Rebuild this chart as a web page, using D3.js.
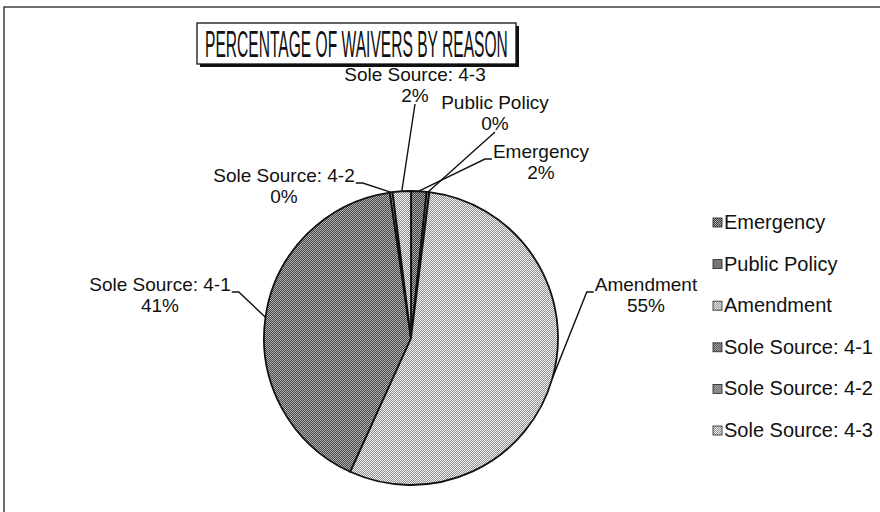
<!DOCTYPE html>
<html>
<head>
<meta charset="utf-8">
<script src="https://cdn.jsdelivr.net/npm/d3@7"></script>
<style>
  body { margin: 0; background: #fff; }
  svg { display: block; font-family: Arial, "Liberation Sans", sans-serif; }
</style>
</head>
<body>
<div id="chart"></div>
<script>
// data (percent of waivers)
const categories = ["Emergency", "Public Policy", "Amendment", "Sole Source: 4-1", "Sole Source: 4-2", "Sole Source: 4-3"];
const values = [1.7, 0.3, 54.8, 40.9, 0.3, 2.0];
const title = "PERCENTAGE OF WAIVERS BY REASON";

const W = 880, H = 512;
const cx = 411, cy = 338, r = 147;

// dither colours, [dark, light] of a 2x2 checker
const shades = [
  ["#3a3a3a", "#b0b0b0"],
  ["#3a3a3a", "#b0b0b0"],
  ["#8c8c8c", "#f4f4f4"],
  ["#444", "#b4b4b4"],
  ["#555", "#c0c0c0"],
  ["#8c8c8c", "#f4f4f4"]
];

// label layout: centre x, first baseline, and which edge of the label the leader meets
const labelPos = [
  { x: 541, y: 158, side: "left" },
  { x: 495, y: 109, side: "bottom" },
  { x: 646, y: 291, side: "left" },
  { x: 160, y: 291, side: "right" },
  { x: 284, y: 182, side: "right" },
  { x: 415, y: 81, side: "bottom" }
];
const fontSize = 19, lineGap = 21;

const svg = d3.select("#chart").append("svg")
  .attr("width", W)
  .attr("height", H);

const defs = svg.append("defs");
shades.forEach(function(s, i) {
  const p = defs.append("pattern")
    .attr("id", "pat" + i)
    .attr("width", 2).attr("height", 2)
    .attr("patternUnits", "userSpaceOnUse");
  p.append("rect").attr("width", 2).attr("height", 2).attr("fill", s[1]);
  p.append("rect").attr("width", 1).attr("height", 1).attr("fill", s[0]);
  p.append("rect").attr("x", 1).attr("y", 1).attr("width", 1).attr("height", 1).attr("fill", s[0]);
});

// outer frame
svg.append("rect")
  .attr("x", 4).attr("y", 7)
  .attr("width", W + 10).attr("height", H + 10)
  .attr("fill", "none")
  .attr("stroke", "#222")
  .attr("stroke-width", 1.3);

// title box with its shadow
svg.append("rect")
  .attr("x", 200).attr("y", 26)
  .attr("width", 319).attr("height", 41)
  .attr("fill", "#111");
svg.append("rect")
  .attr("x", 197).attr("y", 23)
  .attr("width", 319).attr("height", 41)
  .attr("fill", "#fff")
  .attr("stroke", "#111")
  .attr("stroke-width", 1.3);
const tt = svg.append("text")
  .attr("font-family", "'Liberation Sans Narrow', 'Arial Narrow', Arial, sans-serif")
  .attr("font-size", 37)
  .attr("fill", "#111")
  .text(title);
const natural = tt.node().getComputedTextLength();
tt.attr("transform", "translate(205,57) scale(" + (303 / natural) + ",1)");

const total = d3.sum(values);
const pie = d3.pie().sort(null).value(function(d) { return d; });
const arcs = pie(values);

const arc = d3.arc().innerRadius(0).outerRadius(r);
const edge = d3.arc().innerRadius(r).outerRadius(r);

const g = svg.append("g").attr("transform", "translate(" + cx + "," + cy + ")");

g.selectAll("path.slice")
  .data(arcs)
  .enter().append("path")
  .attr("class", "slice")
  .attr("d", arc)
  .attr("fill", function(d, i) { return "url(#pat" + i + ")"; })
  .attr("stroke", "#111")
  .attr("stroke-width", 1.8)
  .attr("stroke-linejoin", "round");

// labels, then leader lines from the label edge to the middle of the slice rim
const labels = svg.append("g");
arcs.forEach(function(d, i) {
  const lp = labelPos[i];
  const lines = [categories[i], Math.round(values[i] / total * 100) + "%"];
  const t = labels.append("text")
    .attr("text-anchor", "middle")
    .attr("font-size", fontSize)
    .attr("fill", "#111");
  lines.forEach(function(s, k) {
    t.append("tspan").attr("x", lp.x).attr("y", lp.y + k * lineGap).text(s);
  });
  const box = t.node().getBBox();
  const p = edge.centroid(d);
  const end = [p[0] + cx, p[1] + cy];
  let pts;
  if (lp.side === "bottom") {
    pts = [[lp.x, box.y + box.height - 2], end];
  } else {
    const yy = lp.y + 1;
    const x0 = lp.side === "left" ? box.x - 1 : box.x + box.width + 1;
    const x1 = lp.side === "left" ? x0 - 7 : x0 + 7;
    pts = [[x0, yy], [x1, yy], end];
  }
  labels.append("polyline")
    .attr("points", pts.map(function(q) { return q.join(","); }).join(" "))
    .attr("fill", "none")
    .attr("stroke", "#111")
    .attr("stroke-width", 1.4);
});

// legend
const legend = svg.append("g").attr("transform", "translate(713,222)");
const rows = legend.selectAll("g")
  .data(categories)
  .enter().append("g")
  .attr("transform", function(d, i) { return "translate(0," + (i * 41.6) + ")"; });
rows.append("rect")
  .attr("x", 0).attr("y", -4)
  .attr("width", 9).attr("height", 9)
  .attr("fill", function(d, i) { return "url(#pat" + i + ")"; })
  .attr("stroke", "#222")
  .attr("stroke-width", 0.8);
rows.append("text")
  .attr("x", 11).attr("y", 7)
  .attr("font-size", 20)
  .attr("fill", "#111")
  .text(function(d) { return d; });
</script>
</body>
</html>
